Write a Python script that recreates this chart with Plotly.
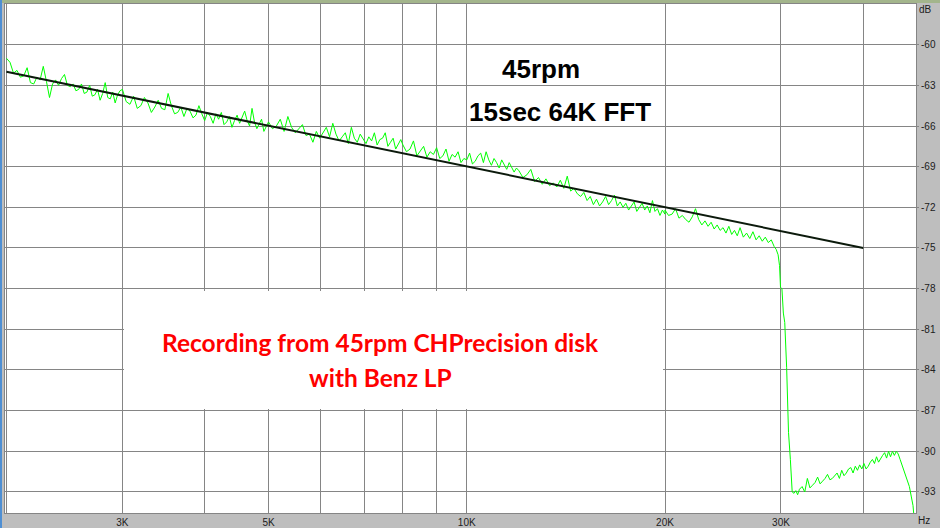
import math
import plotly.graph_objects as go

# ---------------- data ----------------
# green FFT trace, split in frequency segments (Hz, dB)
FREQ_A = [2000, 2025, 2050, 2075, 2100, 2125, 2150, 2175, 2200, 2225, 2250, 2275, 2300, 2325, 2350,
          2375, 2400, 2425, 2450, 2475, 2500, 2525, 2550, 2575, 2600, 2625, 2650, 2675, 2700, 2725,
          2750, 2775, 2800, 2825, 2850, 2875, 2900, 2925, 2950, 2975]
DB_A = [-61.0, -61.3, -62.1, -61.9, -62.4, -62.3, -61.7, -62.8, -62.9, -62.4,
        -62.6, -61.6, -62.7, -63.9, -62.9, -62.6, -63.0, -62.5, -62.2, -63.0,
        -63.1, -62.9, -63.4, -63.3, -62.9, -63.6, -63.5, -63.0, -63.8, -63.7,
        -63.3, -64.1, -63.6, -62.8, -63.9, -64.0, -63.5, -64.3, -63.7, -63.4]

FREQ_B = [3000, 3040, 3080, 3120, 3160, 3200, 3240, 3280, 3320, 3360, 3400, 3440, 3480, 3520, 3560,
          3600, 3640, 3680, 3720, 3760, 3800, 3840, 3880, 3920, 3960, 4000, 4040, 4080, 4120, 4160,
          4200, 4240, 4280, 4320, 4360, 4400, 4440, 4480, 4520, 4560, 4600, 4640, 4680, 4720, 4760,
          4800, 4840, 4880, 4920, 4960]
DB_B = [-63.3, -64.2, -64.4, -63.8, -64.7, -64.5, -63.9, -64.3, -65.0, -64.6,
        -64.1, -64.7, -64.8, -63.6, -64.5, -65.1, -65.0, -64.6, -65.3, -64.7,
        -64.9, -65.4, -65.2, -64.5, -65.1, -65.6, -65.0, -65.3, -65.8, -65.1,
        -65.5, -65.0, -65.9, -65.7, -65.3, -66.1, -65.6, -65.2, -65.8, -65.4,
        -64.9, -65.6, -66.0, -64.7, -65.7, -66.2, -65.9, -65.5, -66.4, -66.0]

FREQ_C = [5000, 5070, 5140, 5210, 5280, 5350, 5420, 5490, 5560, 5630, 5700, 5770, 5840, 5910, 5980,
          6050, 6120, 6190, 6260, 6330, 6400, 6470, 6540, 6610, 6680, 6750, 6820, 6890, 6960, 7030,
          7100, 7170, 7240, 7310, 7380, 7450, 7520, 7590, 7660, 7730, 7800, 7870, 7940]
DB_C = [-65.7, -66.2, -66.0, -65.5, -66.4, -65.3, -66.1, -66.5, -66.2, -65.9,
        -66.7, -66.6, -67.2, -66.4, -66.9, -66.5, -66.1, -66.8, -65.8, -66.6,
        -67.1, -66.8, -66.5, -67.3, -66.1, -66.9, -67.2, -66.6, -67.0, -67.3,
        -66.8, -67.1, -66.5, -67.4, -67.0, -66.9, -66.5, -67.5, -67.2, -66.9,
        -67.7, -67.3, -67.0]

FREQ_D = [8000, 8100, 8200, 8300, 8400, 8500, 8600, 8700, 8800, 8900, 9000, 9100, 9200, 9300, 9400,
          9500, 9600, 9700, 9800, 9900, 10000, 10100, 10200, 10300, 10400, 10500, 10600, 10700, 10800, 10900,
          11000, 11100, 11200, 11300, 11400, 11500, 11600, 11700, 11800, 11900]
DB_D = [-67.4, -67.9, -67.7, -67.1, -68.2, -67.8, -67.5, -68.3, -67.9, -68.1,
        -67.6, -68.4, -68.2, -67.7, -68.6, -68.1, -68.3, -67.9, -68.7, -68.4,
        -68.5, -68.0, -68.8, -68.6, -68.2, -68.0, -68.7, -67.9, -68.5, -68.9,
        -68.4, -68.7, -69.1, -68.5, -68.8, -69.2, -68.7, -69.0, -69.4, -69.1]

FREQ_E = [12000, 12170, 12340, 12510, 12680, 12850, 13020, 13190, 13360, 13530, 13700, 13870, 14040, 14210, 14380,
          14550, 14720, 14890, 15060, 15230, 15400, 15570, 15740, 15910, 16080, 16250, 16420, 16590, 16760, 16930,
          17100, 17270, 17440, 17610, 17780, 17950, 18120, 18290, 18460, 18630, 18800, 18970, 19140, 19310, 19480,
          19650, 19820, 19990]
DB_E = [-69.3, -69.8, -69.6, -69.2, -70.1, -69.8, -70.3, -69.9, -70.4, -70.2,
        -70.5, -70.0, -70.6, -69.7, -70.8, -70.6, -71.0, -71.2, -70.9, -71.5,
        -71.2, -71.8, -71.4, -71.9, -71.6, -71.2, -71.8, -71.5, -71.1, -71.9,
        -71.6, -72.0, -71.7, -72.2, -71.9, -71.6, -72.3, -72.0, -71.7, -72.2,
        -71.9, -72.4, -71.5, -72.3, -72.1, -72.6, -72.2, -72.5]

FREQ_F = [20000, 20250, 20500, 20750, 21000, 21250, 21500, 21750, 22000, 22250, 22500, 22750, 23000, 23250, 23500,
          23750, 24000, 24250, 24500, 24750, 25000, 25250, 25500, 25750]
DB_F = [-72.2, -72.6, -72.5, -72.1, -72.8, -72.6, -72.9, -73.1, -72.7, -72.1,
        -72.9, -73.3, -73.0, -73.4, -73.1, -73.6, -73.3, -73.7, -73.5, -73.9,
        -73.4, -74.0, -73.7, -74.1]

FREQ_G = [26000, 26300, 26600, 26900, 27200, 27500, 27800, 28100, 28400, 28700, 29000, 29300, 29500, 29700, 29850,
          29950, 30100, 30250, 30400, 30600, 30800, 31000, 31100, 31200, 31400, 31600, 31800, 32000]
DB_G = [-73.5, -74.2, -73.9, -74.3, -73.8, -74.4, -74.1, -74.5, -74.2, -74.6,
        -74.4, -74.9, -75.1, -75.5, -76.3, -77.9, -78.0, -79.8, -80.5, -83.8,
        -88.6, -90.6, -92.1, -93.0, -93.1, -92.9, -93.2, -92.8]

FREQ_H = [32300, 32600, 32900, 33200, 33500, 33800, 34100, 34400, 34700, 35000, 35300, 35600, 35900, 36200, 36500,
          36800, 37100, 37400, 37700, 38000, 38300, 38600, 38900, 39200, 39500, 39800, 40100, 40400, 40700, 41000,
          41300, 41600, 41900, 42200, 42500, 42800, 43100, 43400, 43700, 44000, 44300, 44600, 44900, 45200, 45500,
          45800, 46100, 46400, 46700, 47000, 47300, 47600, 47800, 48000]
DB_H = [-92.6, -93.0, -92.0, -92.7, -92.5, -92.3, -91.9, -92.4, -92.2, -92.0,
        -91.7, -92.1, -92.0, -91.8, -91.6, -92.0, -91.4, -91.8, -91.6, -91.3,
        -91.2, -91.6, -91.1, -91.4, -91.0, -91.3, -90.9, -91.3, -91.1, -90.8,
        -90.6, -90.9, -90.4, -90.8, -90.5, -90.3, -90.1, -90.5, -90.0, -90.4,
        -90.0, -90.3, -90.0, -90.2, -90.6, -91.0, -91.4, -91.9, -92.3, -92.6,
        -93.3, -94.0, -95.0, -96.0]

# black reference slope line
TREND_HZ = [2000, 40000]
TREND_DB = [-62.0, -75.0]

# axes
GRID_HZ = [2000, 3000, 4000, 5000, 6000, 7000, 8000, 9000, 10000, 20000, 30000, 40000]
X_LABELS = ["", "3K", "", "5K", "", "", "", "", "10K", "20K", "30K", ""]
Y_TICKS = [-60, -63, -66, -69, -72, -75, -78, -81, -84, -87, -90, -93]
Y_LABELS = [str(v) for v in Y_TICKS]

SEGMENTS = [(FREQ_A, DB_A), (FREQ_B, DB_B), (FREQ_C, DB_C), (FREQ_D, DB_D),
            (FREQ_E, DB_E), (FREQ_F, DB_F), (FREQ_G, DB_G), (FREQ_H, DB_H)]
freq, db = [], []
for fs, ds in SEGMENTS:
    assert len(fs) == len(ds), (len(fs), len(ds))
    freq += fs
    db += ds

# ---------------- figure ----------------
W, H = 940, 528
ML, MR, MT, MB = 5, 24, 4, 15
PW, PH = W - ML - MR, H - MT - MB


def px(x):  # pixel -> paper x
    return (x - ML) / PW


def py(y):  # pixel -> paper y
    return 1 - (y - MT) / PH


fig = go.Figure()
fig.add_trace(go.Scatter(x=freq, y=db, mode="lines",
                         line=dict(color="#00FF00", width=1), hoverinfo="skip"))
fig.add_trace(go.Scatter(x=TREND_HZ, y=TREND_DB, mode="lines",
                         line=dict(color="#0C1A0C", width=2), hoverinfo="skip"))

tick_font = dict(family="Liberation Sans, Arial, sans-serif", size=10, color="#202020")

fig.update_layout(
    width=W, height=H,
    paper_bgcolor="#BEBEBE", plot_bgcolor="#FFFFFF",
    margin=dict(l=ML, r=MR, t=MT, b=MB, autoexpand=False),
    showlegend=False,
    xaxis=dict(type="log", range=[math.log10(1990), math.log10(48100)],
               tickmode="array", tickvals=GRID_HZ, ticktext=X_LABELS,
               showgrid=True, gridcolor="#858585", gridwidth=1,
               showline=True, linecolor="#858585", linewidth=1, mirror=True,
               ticks="", tickfont=tick_font, zeroline=False),
    yaxis=dict(side="right", range=[-94.55, -57.0],
               tickmode="array", tickvals=Y_TICKS, ticktext=Y_LABELS,
               showgrid=True, gridcolor="#858585", gridwidth=1,
               showline=True, linecolor="#858585", linewidth=1, mirror=True,
               ticks="outside", ticklen=2, tickcolor="#858585",
               tickfont=tick_font, zeroline=False),
    shapes=[
        # white text box
        dict(type="rect", xref="paper", yref="paper",
             x0=px(124), x1=px(663), y0=py(409), y1=py(291),
             fillcolor="#FFFFFF", line=dict(width=0), layer="above"),
        # window frame stripes
        dict(type="rect", xref="paper", yref="paper",
             x0=px(0), x1=px(940), y0=py(3), y1=py(-1),
             fillcolor="#A3B58C", line=dict(width=0), layer="above"),
        dict(type="rect", xref="paper", yref="paper",
             x0=px(-1), x1=px(2), y0=py(529), y1=py(0),
             fillcolor="#4F8FD3", line=dict(width=0), layer="above"),
    ],
    annotations=[
        dict(text="<b>45rpm</b>", xref="paper", yref="paper", x=px(541), y=py(69),
             showarrow=False, xanchor="center", yanchor="middle",
             font=dict(family="Liberation Sans, Arial, sans-serif", size=26, color="#000000")),
        dict(text="<b>15sec 64K FFT</b>", xref="paper", yref="paper", x=px(560), y=py(112),
             showarrow=False, xanchor="center", yanchor="middle",
             font=dict(family="Liberation Sans, Arial, sans-serif", size=26, color="#000000")),
        dict(text="<b>Recording from 45rpm CHPrecision disk</b>", xref="paper", yref="paper",
             x=px(380), y=py(342), showarrow=False, xanchor="center", yanchor="middle",
             font=dict(family="Lato, sans-serif", size=24.5, color="#FF0000")),
        dict(text="<b>with Benz LP</b>", xref="paper", yref="paper",
             x=px(380), y=py(377), showarrow=False, xanchor="center", yanchor="middle",
             font=dict(family="Lato, sans-serif", size=24.5, color="#FF0000")),
        dict(text="dB", xref="paper", yref="paper", x=px(917), y=py(10),
             showarrow=False, xanchor="left", yanchor="middle", font=tick_font),
        dict(text="Hz", xref="paper", yref="paper", x=px(916), y=py(520),
             showarrow=False, xanchor="left", yanchor="middle", font=tick_font),
    ],
)

fig.write_html("out.html",
               config={"displayModeBar": False},
               post_script="document.body.style.margin='0';document.body.style.padding='0';")
